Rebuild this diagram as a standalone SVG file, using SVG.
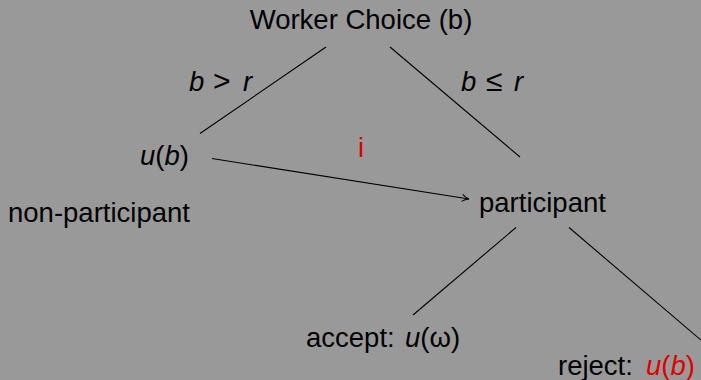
<svg xmlns="http://www.w3.org/2000/svg" width="701" height="380" viewBox="0 0 701 380">
<defs>
<style>
.t{font-family:"Liberation Sans",Arial,sans-serif;font-size:27.5px;fill:#000}
.m{font-style:italic}
.rel{font-size:30px}
.red{fill:#e00000}
.ln{stroke:#000;stroke-width:1.1;fill:none}
</style>
<marker id="ah" viewBox="0 0 10 10" refX="9" refY="5" markerWidth="10" markerHeight="10" markerUnits="userSpaceOnUse" orient="auto">
<path d="M2,1.5 Q5,4 9,5 Q5,6 2,8.5" fill="none" stroke="#000" stroke-width="1"/>
</marker>
</defs>
<rect width="701" height="380" fill="#999999"/>
<g id="connectors">
<line class="ln" x1="326" y1="47" x2="200" y2="133.5"/>
<line class="ln" x1="390" y1="47" x2="520" y2="157"/>
<line class="ln" x1="212" y1="158.5" x2="469" y2="199" marker-end="url(#ah)"/>
<line class="ln" x1="516" y1="227.5" x2="413" y2="315"/>
<line class="ln" x1="569" y1="227.5" x2="702" y2="341"/>
</g>
<g id="root"><text class="t" x="361" y="29" text-anchor="middle">Worker Choice (b)</text></g>
<g id="label-gt"><text class="t" y="91"><tspan class="m" x="189">b</tspan><tspan class="rel" x="213">&gt;</tspan><tspan class="m" x="243">r</tspan></text></g>
<g id="label-le"><text class="t" y="91"><tspan class="m" x="461">b</tspan><tspan class="rel" x="486">≤</tspan><tspan class="m" x="514">r</tspan></text></g>
<g id="nonparticipant-payoff"><text class="t" x="140" y="165"><tspan class="m">u</tspan>(<tspan class="m">b</tspan>)</text></g>
<g id="nonparticipant"><text class="t" x="8" y="222">non-participant</text></g>
<g id="label-i"><text class="t red" x="361" y="157" text-anchor="middle">i</text></g>
<g id="participant"><text class="t" x="479" y="212">participant</text></g>
<g id="accept"><text class="t" x="306" y="347">accept:<tspan class="m" x="405">u</tspan>(ω)</text></g>
<g id="reject"><text class="t" x="558" y="375">reject:<tspan class="m red" x="646">u</tspan><tspan class="red">(</tspan><tspan class="m red">b</tspan><tspan class="red">)</tspan></text></g>
</svg>
